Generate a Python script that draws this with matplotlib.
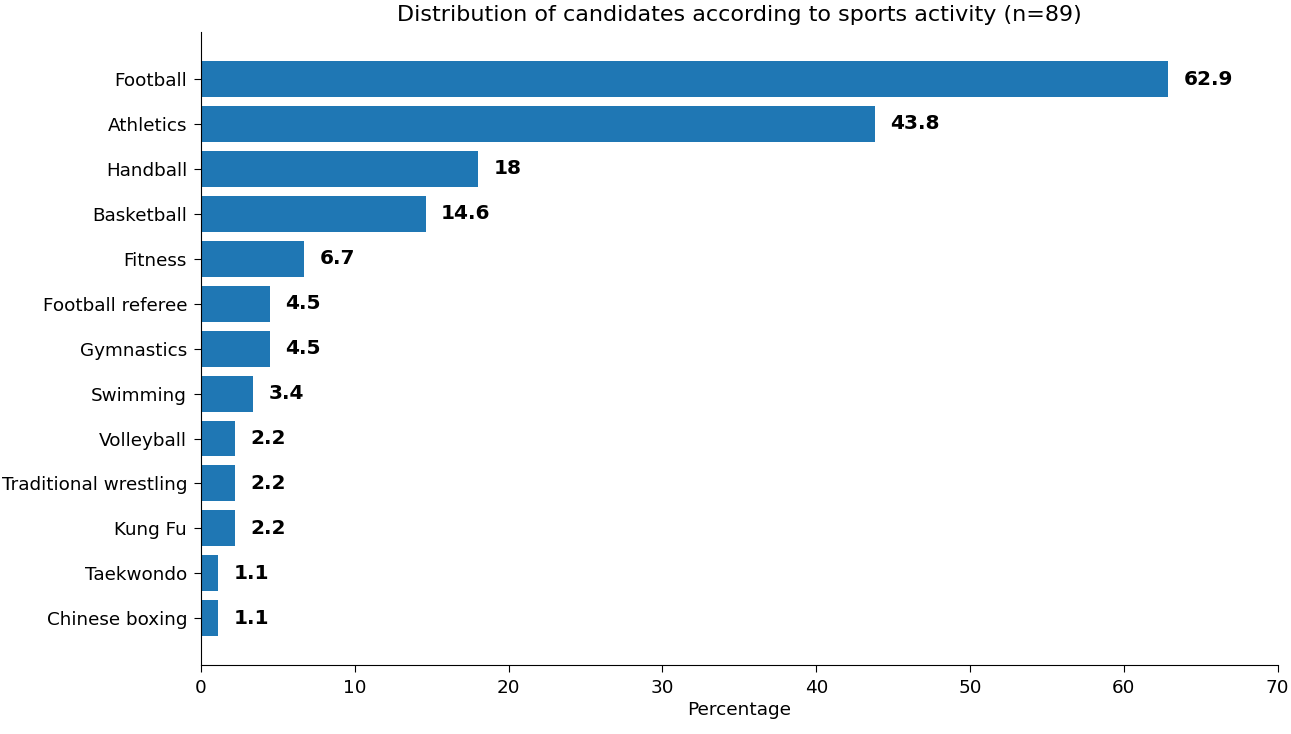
import matplotlib
matplotlib.use('Agg')
import matplotlib.pyplot as plt

# данные
sports = ['Football', 'Athletics', 'Handball', 'Basketball', 'Fitness',
          'Football referee', 'Gymnastics', 'Swimming', 'Volleyball',
          'Traditional wrestling', 'Kung Fu', 'Taekwondo', 'Chinese boxing']
percent = [62.9, 43.8, 18, 14.6, 6.7, 4.5, 4.5, 3.4, 2.2, 2.2, 2.2, 1.1, 1.1]
labels = ['62.9', '43.8', '18', '14.6', '6.7', '4.5', '4.5', '3.4',
          '2.2', '2.2', '2.2', '1.1', '1.1']

fig = plt.figure(figsize=(12.91, 7.34), dpi=100)
ax = fig.add_axes([0.1557, 0.094, 0.834, 0.862])

bars = ax.barh(sports, percent, color='#1f77b4', height=0.8)
ax.invert_yaxis()

for y, (v, t) in enumerate(zip(percent, labels)):
    ax.text(v + 1.0, y, t, va='center', ha='left',
            fontsize=14.5, fontweight='bold')

ax.set_xlim(0, 70)
ax.set_xlabel('Percentage', fontsize=13.3, labelpad=3)
ax.set_title('Distribution of candidates according to sports activity (n=89)',
             fontsize=16, pad=8)
ax.tick_params(labelsize=13.2, length=5, pad=5)
ax.spines['top'].set_visible(False)
ax.spines['right'].set_visible(False)

fig.savefig('out.png', dpi=100)
